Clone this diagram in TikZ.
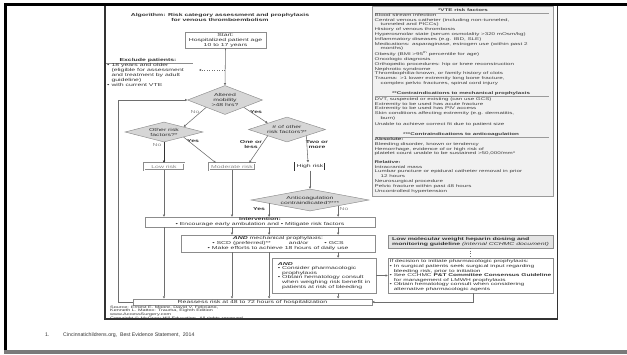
\documentclass[tikz,border=0pt]{standalone}
\usepackage{fontspec}
\setmainfont{Liberation Sans}
\newfontfamily\flowfam[FakeStretch=1.6]{Liberation Sans}
\newcommand\flowfont{\flowfam\fontsize{4.3}{5}\selectfont}
\newcommand\flowsmall{\flowfam\fontsize{4.1}{4.55}\selectfont}
\newcommand\panelfont{\flowfam\fontsize{3.9}{4.8}\selectfont}
\newcommand\srcfont{\flowfam\fontsize{3.4}{3.7}\selectfont}
\newcommand\footfont{\fontsize{5.2}{6}\selectfont}
\usetikzlibrary{shapes.geometric,arrows.meta,calc}
\definecolor{txtc}{HTML}{333333}
\definecolor{boxc}{HTML}{8C8C8C}
\definecolor{linec}{HTML}{6E6E6E}
\definecolor{diac}{HTML}{D6D6D6}
\definecolor{ptc}{HTML}{404040}
\definecolor{pfill}{HTML}{F1F1F1}
\definecolor{pdraw}{HTML}{9A9A9A}
\definecolor{lmfill}{HTML}{E4E4E4}
\definecolor{lowtxt}{HTML}{8A8A8A}
\definecolor{framec}{HTML}{333333}
\definecolor{barc}{HTML}{7A7A7A}
\begin{document}
\begin{tikzpicture}[x=1pt,y=-1pt,
  fbox/.style={draw=boxc, fill=white, line width=0.45pt, inner xsep=1pt, inner ysep=0.5pt, font=\flowfont, text=txtc, align=center},
  fdia/.style={diamond, draw=boxc, fill=diac, line width=0.45pt, inner sep=0pt, font=\flowfont, text=txtc, align=center},
  rbox/.style={fbox, double=white, double distance=0.5pt, line width=0.3pt},
  conn/.style={draw=linec, line width=0.55pt, -{Triangle[length=2.2pt,width=2.2pt]}},
  lbl/.style={font=\flowfont, inner sep=0pt},
  ptxt/.style={font=\panelfont, text=ptc, align=left, inner sep=0pt, anchor=north west},
  phead/.style={font=\panelfont\bfseries, text=ptc, inner sep=0pt},
]
\useasboundingbox (0,0) rectangle (627,354);
\fill[white] (0,0) rectangle (627,354);

\begin{scope}
\clip (105,5) rectangle (557.5,319);
% title
\node[font=\flowfam\bfseries\fontsize{4.3}{5}\selectfont, text=txtc, align=center, inner sep=0pt] (title) at (220,17.5) {Algorithm: Risk category assessment and prophylaxis\\for venous thromboembolism};

% start
\node[fbox, minimum width=81pt, minimum height=16pt] (start) at (225.5,40) {Start:\\Hospitalized patient age\\10 to 17 years};

% exclude
\node[lbl, font=\flowfam\bfseries\fontsize{4.3}{5}\selectfont, text=txtc] (exclh) at (148,60) {Exclude patients:};
\draw[boxc, line width=0.45pt] (106,62.8) -- (193,62.8);
\node[font=\flowfont, text=txtc, align=left, anchor=north west, inner sep=0pt] (excl) at (107,63.6) {• 18 years and older\\\phantom{• }(eligible for assessment\\\phantom{• }and treatment by adult\\\phantom{• }guideline)\\• with current VTE};

% diamonds
\node[fdia, aspect=2.59, minimum width=75pt, minimum height=29pt] (alt) at (225,100) {Altered\\mobility\\>48 hrs?};
\node[fdia, aspect=3.9, minimum width=78pt, minimum height=20pt] (other) at (164,132) {Other risk\\factors?*};
\node[fdia, aspect=3.08, minimum width=77pt, minimum height=25pt] (num) at (287,129.5) {\# of other\\risk factors?*};

% risk boxes
\node[rbox, text=lowtxt, minimum width=40pt, minimum height=7pt] (low) at (164,166.5) {Low risk};
\node[rbox, text=lowtxt, minimum width=46pt, minimum height=7pt] (mod) at (232,166.5) {Moderate risk};
\node[rbox, draw=txtc, text=txtc, minimum width=30pt, minimum height=8pt] (high) at (310,166.5) {High risk};

\node[fdia, aspect=5.36, minimum width=118pt, minimum height=22pt] (anti) at (310,200) {Anticoagulation\\contraindicated?***};

% intervention boxes
\node[fbox, minimum width=230pt, minimum height=10pt, inner ysep=0.2pt] (intv) at (260,222) {\textbf{Intervention:}\\• Encourage early ambulation and • Mitigate risk factors};
\node[fbox, minimum width=194pt, minimum height=17pt] (andm) at (278,243.5) {\textbf{\textit{AND}} mechanical prophylaxis:\\• SCD (preferred)**\hspace*{18pt}and/or\hspace*{16pt}• GCS\\• Make efforts to achieve 18 hours of daily use};
\node[fbox, align=left, minimum width=104pt, minimum height=35pt, font=\flowfam\fontsize{4.3}{4.6}\selectfont] (andp) at (324,275.5) {\textbf{\textit{AND}}\\• Consider pharmacologic\\\phantom{• }prophylaxis\\• Obtain hematology consult\\\phantom{• }when weighing risk benefit in\\\phantom{• }patients at risk of bleeding};
\node[fbox, minimum width=239pt, minimum height=6.5pt, inner ysep=0.3pt] (reass) at (252.5,302) {Reassess risk at 48 to 72 hours of hospitalization};

% LMWH
\node[fbox, fill=lmfill, align=left, minimum width=165pt, minimum height=13pt] (lmwh) at (470.5,241.5) {\textbf{Low molecular weight heparin dosing and}\\\textbf{monitoring guideline} \textit{(internal CCHMC document)}};
\node[fbox, align=left, font=\flowsmall, minimum width=165pt, minimum height=35pt] (ifdec) at (470.5,275.5) {If decision to initiate pharmacologic prophylaxis:\\• In surgical patients seek surgical input regarding\\\phantom{• }bleeding risk, prior to initiation\\• See CCHMC \textbf{P\&T Committee Consensus Guideline}\\\phantom{• }for management of LMWH prophylaxis\\• Obtain hematology consult when considering\\\phantom{• }alternative pharmacologic agents};

% source
\node[font=\srcfont, text=txtc, align=left, anchor=north west, inner sep=0pt] (src) at (110,305.6) {Source: Ernest E. Moore, David V. Feliciano,\\Kenneth L. Mattox: Trauma, Eighth Edition\\www.AccessSurgery.com\\Copyright © McGraw-Hill Education. All rights reserved.};

% panel
\node[draw=pdraw, fill=pfill, line width=0.5pt, minimum width=181pt, minimum height=190pt, inner sep=0pt, anchor=north west] (panel) at (372,6) {};
\node[phead] (vteh) at (463,10) {*VTE risk factors};
\draw[pdraw, line width=0.5pt] (375,12.8) -- (549,12.8);
\node[ptxt] (vte) at (374.5,13.3) {Blood stream infection\\
Central venous catheter (including non-tunneled,\\
\hspace*{6pt}tunneled and PICCs)\\
History of venous thrombosis\\
Hyperosmolar state (serum osmolality >320 mOsm/kg)\\
Inflammatory diseases (e.g. IBD, SLE)\\
Medications: asparaginase, estrogen use (within past 2\\
\hspace*{6pt}months)\\
Obesity (BMI >95\textsuperscript{th} percentile for age)\\
Oncologic diagnosis\\
Orthopedic procedures: hip or knee reconstruction\\
Nephrotic syndrome\\
Thrombophilia-known, or family history of clots\\
Trauma: >1 lower extremity long bone fracture,\\
\hspace*{6pt}complex pelvic fractures, spinal cord injury};
\node[phead] (mechh) at (461,93) {**Contraindications to mechanical prophylaxis};
\draw[pdraw, line width=0.5pt] (375,95.8) -- (549,95.8);
\node[ptxt] (mech) at (374.5,97.2) {DVT, suspected or existing (can use GCS)\\
Extremity to be used has acute fracture\\
Extremity to be used has PIV access\\
Skin conditions affecting extremity (e.g. dermatitis,\\
\hspace*{6pt}burn)\\[1pt]
Unable to achieve correct fit due to patient size};
\node[phead] (antih) at (461,134) {***Contraindications to anticoagulation};
\draw[pdraw, line width=0.5pt] (375,136.8) -- (549,136.8);
\node[ptxt] (antil) at (374.5,137.5) {\textbf{Absolute:}\\
Bleeding disorder, known or tendency\\
Hemorrhage, evidence of or high risk of\\
platelet count unable to be sustained >50,000/mm³\\[3.6pt]
\textbf{Relative:}\\
Intracranial mass\\
Lumbar puncture or epidural catheter removal in prior\\
\hspace*{6pt}12 hours\\
Neurosurgical procedure\\
Pelvic fracture within past 48 hours\\
Uncontrolled hypertension};

% labels
\node[lbl, text=lowtxt] (l1) at (195,112) {No};
\node[lbl, text=txtc, font=\flowfam\bfseries\fontsize{4.3}{5}\selectfont] (l2) at (256,112) {Yes};
\node[lbl, text=lowtxt] (l3) at (157,145) {No};
\node[lbl, text=txtc, font=\flowfam\bfseries\fontsize{4.3}{5}\selectfont] (l4) at (193,141.5) {Yes};
\node[lbl, text=txtc, font=\flowfam\bfseries\fontsize{4.3}{5}\selectfont, align=center] (l5) at (251,144.5) {One or\\less};
\node[lbl, text=txtc, font=\flowfam\bfseries\fontsize{4.3}{5}\selectfont, align=center] (l6) at (317,144.5) {Two or\\more};
\node[lbl, text=txtc, font=\flowfam\bfseries\fontsize{4.3}{5}\selectfont] (l7) at (259,209) {Yes};
\node[lbl, text=lowtxt] (l8) at (344,209) {No};

% connectors
\coordinate (exclsrc) at (225,70);
\coordinate (excltip) at (199,70);
\draw[conn] (start.south) -- (alt.north);
\draw[conn, dotted] (exclsrc) -- (excltip);
\draw[conn] (alt.south west) -- (other.north east);
\draw[conn] (alt.south east) -- (num.north west);
\draw[conn, line width=0.8pt, draw=txtc] (other.south) -- (low.north);
\draw[conn] (other.south east) -- ([xshift=7pt]mod.north west);
\draw[conn] (num.south west) -- ([xshift=-6pt]mod.north east);
\draw[conn] (num.south east) -- ([xshift=-2pt]high.north);
\draw[conn] (high.south) -- (anti.north);
\coordinate (ayes) at ($(anti.west)!0.31!(anti.south)$);
\coordinate (ano) at ($(anti.south)!0.475!(anti.east)$);
\draw[conn] (ayes) -- (ayes |- intv.north);
\draw[conn] (ano) -- (ano |- intv.north);
\draw[conn] (low.south) -- (low.south |- intv.north);
\draw[conn] (mod.south) -- (mod.south |- intv.north);
\draw[conn] (low.south |- intv.south) -- (low.south |- reass.north);
\draw[conn] (mod.south |- intv.south) -- (mod.south |- andm.north);
\draw[conn] (ayes |- intv.south) -- (ayes |- andm.north);
\draw[conn] (ano |- intv.south) -- (ano |- andm.north);
\draw[conn] (mod.south |- andm.south) -- (mod.south |- reass.north);
\draw[conn] (ayes |- andm.south) -- (ayes |- reass.north);
\draw[conn] (ano |- andm.south) -- (ano |- andp.north);
\draw[conn] (ano |- andp.south) -- (ano |- reass.north);
\draw[conn] (andp.east) -- (andp.east -| ifdec.west);
\draw[draw=linec, line width=0.55pt, dotted] (lmwh.south) -- (ifdec.north);
\draw[conn] ([xshift=2.5pt]ifdec.south) |- (reass.east);
\draw[conn] (reass.west) -- ++(-15,0) |- (alt.west);
\end{scope}

% frames
\draw[framec, line width=1.5pt] (105,5) rectangle (557.5,319);
\draw[black, line width=3pt] (5.5,350) -- (5.5,4.5) -- (627,4.5);
\fill[barc] (4,350) rectangle (627,354);

% footnote
\node[font=\footfont, text=txtc, anchor=west, inner sep=0pt] (fnnum) at (45,335) {1.};
\node[font=\footfont, text=txtc, anchor=west, inner sep=0pt] (fntext) at (63,335) {Cincinnatichildrens.org,\ \ Best Evidence Statement,\ \ 2014};
\end{tikzpicture}
\end{document}
